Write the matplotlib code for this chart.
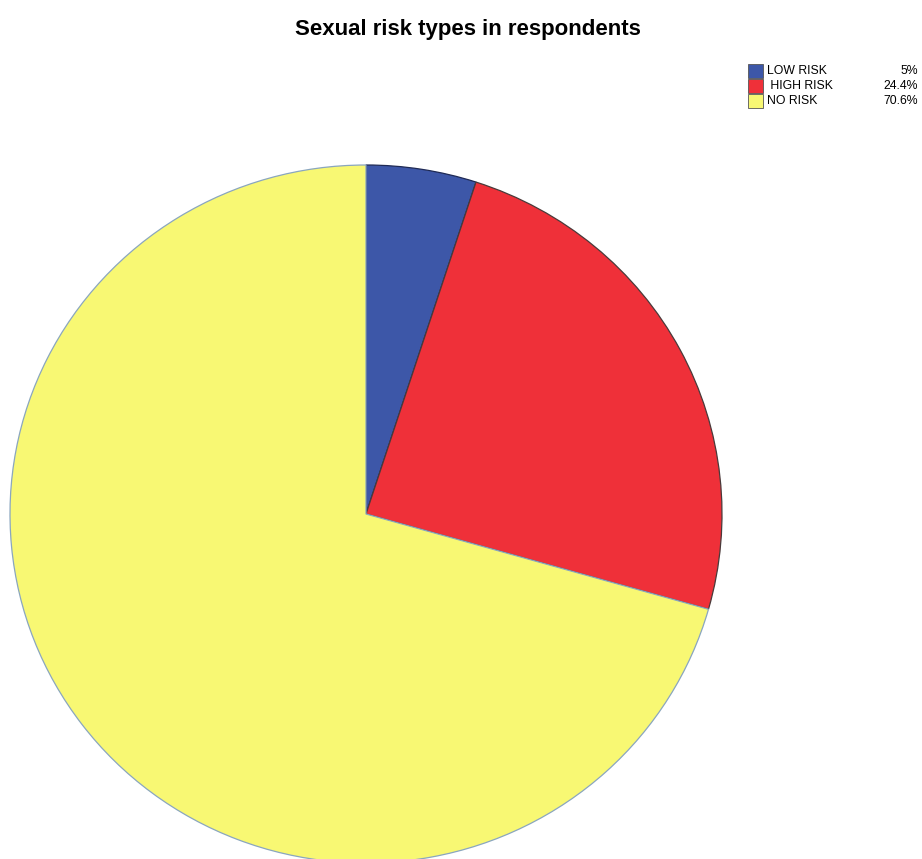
import matplotlib.pyplot as plt
from matplotlib.patches import Rectangle

plt.rcParams['font.family'] = ['Liberation Sans', 'DejaVu Sans']

# data
labels = ['LOW RISK', ' HIGH RISK', 'NO RISK']
values = [5, 24.4, 70.6]
pct_text = ['5%', '24.4%', '70.6%']
colors = ['#3D57A8', '#EF3039', '#F8F873']
edges = ['#1f2a55', '#4a3a3a', '#8aa6bf']

fig = plt.figure(figsize=(9.22, 8.59), dpi=100)
W, H = 922, 859

# pie is a bit wider than tall in the reference
ax = fig.add_axes([10 / W, (H - 863) / H, 712 / W, 698 / H])
wedges, _ = ax.pie(values, colors=colors, startangle=90, counterclock=False,
                   wedgeprops=dict(linewidth=0.9))
for w, ec in zip(wedges, edges):
    w.set_edgecolor(ec)
    w.set_clip_on(False)
ax.set_aspect('auto')
ax.set_xlim(-1, 1)
ax.set_ylim(-1, 1)
ax.axis('off')

fig.text(468 / W, 1 - 30 / H, 'Sexual risk types in respondents',
         ha='center', va='center', fontsize=16, fontweight='bold')

# legend drawn by hand so the percentages can sit right aligned
row_y = [71, 86, 101]
for lab, pct, col, y in zip(labels, pct_text, colors, row_y):
    fig.add_artist(Rectangle((748 / W, 1 - (y + 7) / H), 15 / W, 14 / H,
                             transform=fig.transFigure, facecolor=col,
                             edgecolor='#555555', linewidth=0.6))
    fig.text(767 / W, 1 - y / H, lab, ha='left', va='center', fontsize=8.8)
    fig.text(918 / W, 1 - y / H, pct, ha='right', va='center', fontsize=8.8)

fig.savefig('out.png', dpi=100)
